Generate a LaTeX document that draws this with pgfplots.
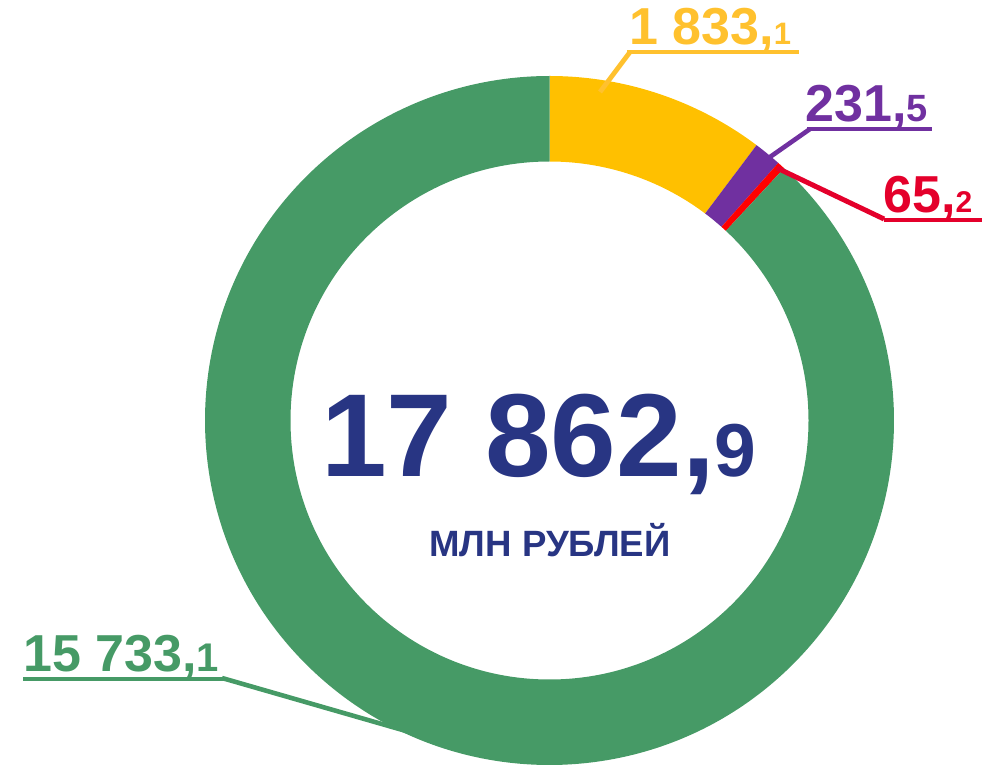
\documentclass[border=0pt]{standalone}
\usepackage{pgfplots}
\pgfplotsset{compat=1.18}
\usepackage{pgfplotstable}
\usepackage{fontspec}
\setmainfont{Liberation Sans}

\definecolor{cGreen}{HTML}{469A66}
\definecolor{cYellow}{HTML}{FFC000}
\definecolor{cYellowT}{HTML}{FFC12E}
\definecolor{cPurple}{HTML}{7030A0}
\definecolor{cRed}{HTML}{FF0000}
\definecolor{cRedT}{HTML}{E4002B}
\definecolor{cNavy}{HTML}{283583}

% slice values, clockwise from 12 o'clock
\pgfplotstableread{
v
1833.1
231.5
65.2
15733.1
}\donut
\pgfplotstablegetelem{0}{v}\of\donut \let\va\pgfplotsretval
\pgfplotstablegetelem{1}{v}\of\donut \let\vb\pgfplotsretval
\pgfplotstablegetelem{2}{v}\of\donut \let\vc\pgfplotsretval
\pgfplotstablegetelem{3}{v}\of\donut \let\vd\pgfplotsretval
% work in thousands, pgfmath can't hold 17862
\pgfmathsetmacro\tot{\va/1000+\vb/1000+\vc/1000+\vd/1000}
\pgfmathsetmacro\aA{90}
\pgfmathsetmacro\aB{\aA-0.36*\va/\tot}
\pgfmathsetmacro\aC{\aB-0.36*\vb/\tot}
\pgfmathsetmacro\aD{\aC-0.36*\vc/\tot}
\pgfmathsetmacro\aE{\aD-0.36*\vd/\tot}
\def\ro{344.5}\def\ri{259}\def\rw{85.5}
\def\slice#1#2#3{\fill[#1] (axis cs:549.5,345.5) ++(#2:\ro) arc[start angle=#2,end angle=#3,radius=\ro]
  -- ++(#3:-\rw) arc[start angle=#3,end angle=#2,radius=\ri] -- cycle;}

\begin{document}
\begin{tikzpicture}
\begin{axis}[hide axis,scale only axis,width=498pt,height=383pt,
  xmin=0,xmax=996,ymin=0,ymax=766,clip=false]
\coordinate (bl) at (axis cs:0,0);
\coordinate (tr) at (axis cs:996,766);
\slice{cYellow}{\aA}{\aB}
\slice{cPurple}{\aB}{\aC}
\slice{cRed}{\aC}{\aD}
\slice{cGreen}{\aD}{\aE}
% leader lines and underlines
\draw[cYellowT,line width=2.4pt] (axis cs:600,674) -- (axis cs:630,714);
\draw[cYellowT,line width=2.4pt] (axis cs:627,714) -- (axis cs:799,714);
\draw[cPurple,line width=2.3pt] (axis cs:770,609) -- (axis cs:810,637);
\draw[cPurple,line width=2.4pt] (axis cs:807,637) -- (axis cs:932,637);
\draw[cRedT,line width=2.5pt] (axis cs:777,598) -- (axis cs:884,547);
\draw[cRedT,line width=2.4pt] (axis cs:884,546) -- (axis cs:982,546);
\draw[cGreen,line width=2.4pt] (axis cs:23,87) -- (axis cs:224,87);
\draw[cGreen,line width=2.3pt] (axis cs:222,88) -- (axis cs:420,31);
% labels
\node[anchor=base west,inner sep=0,text=cYellowT,font=\bfseries\fontsize{26}{26}\selectfont]
  at (axis cs:629,721) {1 833,{\fontsize{15.5}{15}\selectfont1}};
\node[anchor=base west,inner sep=0,text=cPurple,font=\bfseries\fontsize{26}{26}\selectfont]
  at (axis cs:805,644) {231,{\fontsize{19}{19}\selectfont5}};
\node[anchor=base west,inner sep=0,text=cRedT,font=\bfseries\fontsize{26}{26}\selectfont]
  at (axis cs:883,553) {65,{\fontsize{15}{15}\selectfont2}};
\node[anchor=base west,inner sep=0,text=cGreen,font=\bfseries\fontsize{26}{26}\selectfont]
  at (axis cs:23,95) {15 733,{\fontsize{20}{20}\selectfont1}};
\node[anchor=base,inner sep=0,text=cNavy,font=\bfseries\fontsize{59}{59}\selectfont]
  at (axis cs:539,289) {17 862,{\fontsize{37.5}{37}\selectfont9}};
\node[anchor=base,inner sep=0,text=cNavy,font=\bfseries\fontsize{18.3}{18}\selectfont]
  at (axis cs:550,209) {МЛН РУБЛЕЙ};
\end{axis}
\pgfresetboundingbox
\path[use as bounding box] (bl) rectangle (tr);
\end{tikzpicture}
\end{document}
